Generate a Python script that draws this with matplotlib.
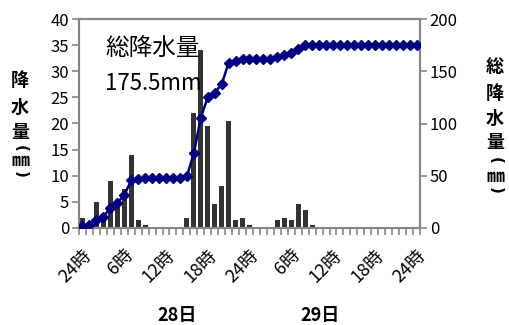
import matplotlib
matplotlib.use('Agg')
import matplotlib.pyplot as plt
import matplotlib.transforms as mtransforms
import numpy as np

plt.rcParams['font.family'] = ['Noto Sans CJK JP', 'DejaVu Sans']

# hourly rainfall (mm), 49 hourly categories: 24時(27日) .. 24時(29日)
rain = [2.0, 1.0, 5.0, 2.5, 9.0, 4.5, 7.5, 14.0, 1.5, 0.5,
        0, 0, 0, 0, 0, 2.0, 22.0, 34.0, 19.5, 4.5,
        8.0, 20.5, 1.5, 2.0, 0.5, 0, 0, 0, 1.5, 2.0,
        1.5, 4.5, 3.5, 0.5, 0, 0, 0, 0, 0, 0,
        0, 0, 0, 0, 0, 0, 0, 0, 0]
# cumulative rainfall (mm)
total = [2.0, 3.0, 8.0, 10.5, 19.5, 24.0, 31.5, 45.5, 47.0, 47.5,
         47.5, 47.5, 47.5, 47.5, 47.5, 49.5, 71.5, 105.5, 125.0, 129.5,
         137.5, 158.0, 159.5, 161.5, 162.0, 162.0, 162.0, 162.0, 163.5, 165.5,
         167.0, 171.5, 175.0, 175.5, 175.5, 175.5, 175.5, 175.5, 175.5, 175.5,
         175.5, 175.5, 175.5, 175.5, 175.5, 175.5, 175.5, 175.5, 175.5]
tick_pos = [0, 6, 12, 18, 24, 30, 36, 42, 48]
tick_labels = ['24時', '6時', '12時', '18時', '24時', '6時', '12時', '18時', '24時']
day_labels = ['28日', '29日']

AXC = '#868686'

fig = plt.figure(figsize=(5.09, 3.25), dpi=100)
fig.patch.set_facecolor('white')
ax = fig.add_axes([79/509, 1 - 228/325, 341/509, 209/325])
ax2 = ax.twinx()

x = np.arange(len(rain))
ax.bar(x, rain, width=0.72, color='#333333', edgecolor='none', zorder=2)
ax2.plot(np.arange(len(total)), total, color='#000080', linewidth=1.8,
         marker='D', markersize=5.5, markerfacecolor='#000080',
         markeredgecolor='#000080', zorder=3)

ax.set_xlim(-0.5, len(rain) - 0.5)
ax.set_ylim(0, 40)
ax2.set_ylim(0, 200)
ax.set_yticks(np.arange(0, 41, 5))
ax2.set_yticks(np.arange(0, 201, 50))

ax.set_xticks(tick_pos)
ax.set_xticklabels(tick_labels, rotation=45, ha='right', va='top',
                   rotation_mode='anchor', fontsize=13)
shift = mtransforms.ScaledTranslation(3/100, 0, fig.dpi_scale_trans)
for lab in ax.get_xticklabels():
    lab.set_transform(lab.get_transform() + shift)
ax.set_xticks(np.arange(-0.5, len(rain), 1), minor=True)
ax.tick_params(axis='x', which='major', length=0, pad=13)
ax.tick_params(axis='x', which='minor', length=5, width=1.2, color=AXC)
ax.tick_params(axis='y', length=5, width=1.2, color=AXC, labelsize=12, pad=2)
ax2.tick_params(axis='y', length=5, width=1.2, color=AXC, labelsize=12, pad=2)

for a in (ax, ax2):
    for s in a.spines.values():
        s.set_color(AXC)
        s.set_linewidth(1.5)

# annotation
ax2.text(0.076, 0.86, '総降水量', transform=ax.transAxes, fontsize=17,
         va='center', ha='left', zorder=5)
ax2.text(0.076, 0.69, '175.5mm', transform=ax.transAxes, fontsize=16,
         va='center', ha='left', zorder=5)

# stacked vertical axis titles, parentheses turned for vertical writing
def stacked(xc, ys, chars):
    for y, c in zip(ys, chars):
        if c in '()':
            fig.text(xc / 509, 1 - y / 325, c, ha='center', va='center',
                     fontsize=11, fontweight='bold', rotation=-90,
                     family='DejaVu Sans')
        else:
            fig.text(xc / 509, 1 - y / 325, c, ha='center', va='center',
                     fontsize=13, fontweight='bold')

stacked(20, [80.5, 107.5, 132.5, 148, 161, 174], ['降', '水', '量', '(', '㎜', ')'])
stacked(495, [67, 93, 118, 143, 160, 176, 190], ['総', '降', '水', '量', '(', '㎜', ')'])

# day labels
fig.text(177/509, 1 - 315/325, day_labels[0], ha='center', va='center',
         fontsize=13, fontweight='bold')
fig.text(320/509, 1 - 315/325, day_labels[1], ha='center', va='center',
         fontsize=13, fontweight='bold')

plt.savefig('out.png', dpi=100, facecolor='white')
